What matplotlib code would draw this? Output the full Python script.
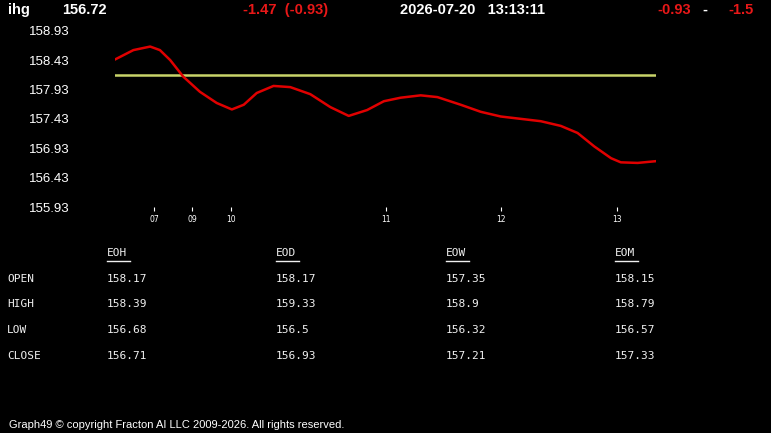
import matplotlib.pyplot as plt

plt.switch_backend("Agg")

# --- datos ---
SYMBOL = "ihg"
LAST = "156.72"
CHANGE = "-1.47  (-0.93)"
STAMP = "2026-07-20   13:13:11"
RIGHT_A, RIGHT_SEP, RIGHT_B = "-0.93", "-", "-1.5"

# posición en la sesión (0..100) y precio
pos = [0, 3.4, 6.5, 8.3, 10.2, 12.6, 15.7, 18.8, 21.6, 23.8, 26.2, 29.3, 32.4,
       36.1, 39.8, 43.2, 46.6, 49.7, 52.8, 56.5, 59.6, 63.9, 67.6, 71.3, 75.0,
       78.7, 82.4, 85.5, 88.6, 91.7, 93.5, 96.6, 100]
price = [158.44, 158.60, 158.66, 158.60, 158.43, 158.15, 157.89, 157.70, 157.59,
         157.67, 157.87, 157.99, 157.97, 157.85, 157.63, 157.48, 157.58, 157.73,
         157.79, 157.83, 157.80, 157.67, 157.55, 157.47, 157.43, 157.39, 157.31,
         157.19, 156.96, 156.76, 156.69, 156.68, 156.71]
open_level = 158.17

hour_pos = [7.2, 14.3, 21.5, 50.0, 71.3, 92.8]
hour_lbl = ["07", "09", "10", "11", "12", "13"]
y_ticks = [158.93, 158.43, 157.93, 157.43, 156.93, 156.43, 155.93]

rows = ["OPEN", "HIGH", "LOW", "CLOSE"]
cols = ["EOH", "EOD", "EOW", "EOM"]
table = {
    "EOH": ["158.17", "158.39", "156.68", "156.71"],
    "EOD": ["158.17", "159.33", "156.5", "156.93"],
    "EOW": ["157.35", "158.9", "156.32", "157.21"],
    "EOM": ["158.15", "158.79", "156.57", "157.33"],
}
FOOTER = "Graph49 \u00a9 copyright Fracton AI LLC 2009-2026. All rights reserved."

W, H = 771, 433
fig = plt.figure(figsize=(W / 100, H / 100), dpi=100, facecolor="black")


def fx(x):
    return x / W


def fy(y):
    return 1 - y / H


ax = fig.add_axes([fx(115), fy(207), fx(656) - fx(115), fy(30.7) - fy(207)])
ax.set_facecolor("black")
for s in ax.spines.values():
    s.set_visible(False)
ax.set_xlim(0, 100)
ax.set_ylim(y_ticks[-1], y_ticks[0])

ax.axhline(open_level, color="#c9d46a", lw=1.8)
ax.plot(pos, price, color="#e00000", lw=1.8, solid_joinstyle="round")

ax.set_yticks(y_ticks)
ax.set_yticklabels([f"{v:.2f}" for v in y_ticks], fontfamily="Liberation Sans",
                   fontsize=9.5, color="white")
ax.tick_params(axis="y", length=0, pad=33)
ax.set_xticks(hour_pos)
ax.set_xticklabels(hour_lbl, fontfamily="DejaVu Sans", fontsize=5.5, color="white")
ax.tick_params(axis="x", length=3, width=0.8, color="white", pad=2.5, direction="out")

hdr = dict(fontfamily="Liberation Sans", fontweight="bold", fontsize=10.5, va="center")
fig.text(fx(8), fy(10), SYMBOL, color="white", **hdr)
fig.text(fx(62), fy(10), LAST, color="white", **hdr)
fig.text(fx(243), fy(10), CHANGE, color="#e81818", **hdr)
fig.text(fx(400), fy(10), STAMP, color="white", **hdr)
fig.text(fx(657), fy(10), RIGHT_A, color="#e81818", **hdr)
fig.text(fx(702), fy(10), RIGHT_SEP, color="white", **hdr)
fig.text(fx(728), fy(10), RIGHT_B, color="#e81818", **hdr)

mono = dict(fontfamily="DejaVu Sans Mono", fontsize=8, color="#f0f0f0", va="center")
col_x = [107, 276, 446, 615]
row_y = [279, 304, 330, 356]
for r, y in zip(rows, row_y):
    fig.text(fx(7), fy(y), r, **mono)
for c, x in zip(cols, col_x):
    fig.text(fx(x), fy(253), c, **mono)
    fig.add_artist(plt.Line2D([fx(x), fx(x + 23)], [fy(261), fy(261)],
                              color="#f0f0f0", lw=1))
    for v, y in zip(table[c], row_y):
        fig.text(fx(x), fy(y), v, **mono)

fig.text(fx(9), fy(425), FOOTER, fontfamily="Liberation Sans", fontsize=8,
         color="white", va="center")

fig.savefig("out.png", dpi=100, facecolor="black")
